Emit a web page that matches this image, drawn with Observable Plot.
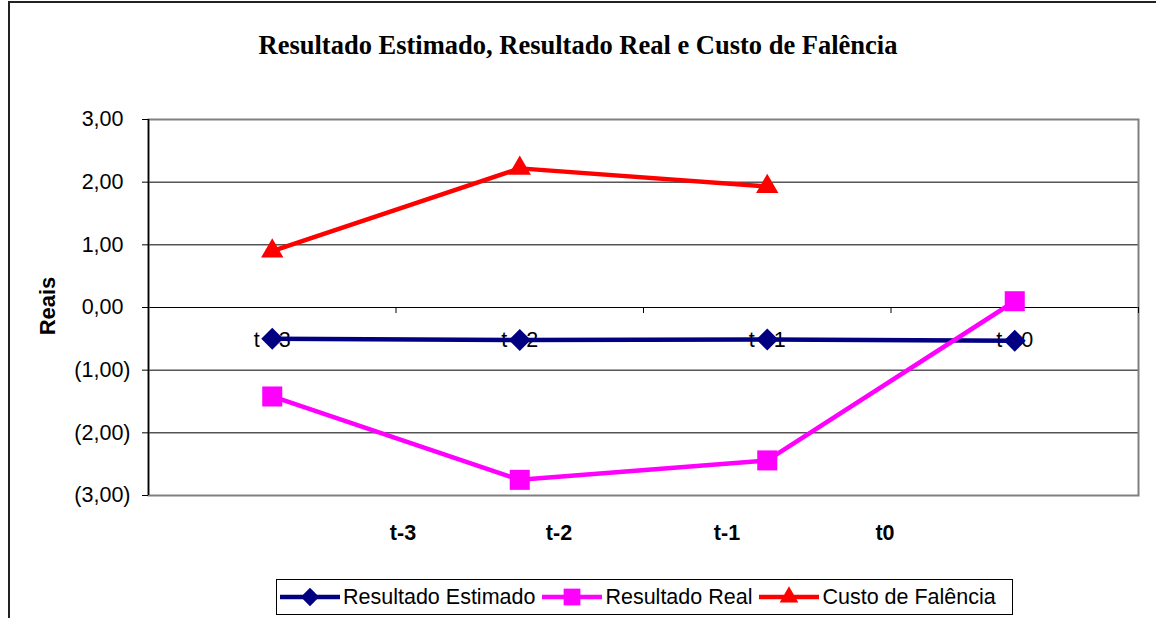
<!DOCTYPE html>
<html>
<head>
<meta charset="utf-8">
<script src="https://cdn.jsdelivr.net/npm/d3@7"></script>
<script src="https://cdn.jsdelivr.net/npm/@observablehq/plot@0.6"></script>
<style>
  html, body { margin: 0; padding: 0; background: #fff; }
  #wrap { position: relative; width: 1156px; height: 618px; overflow: hidden; font-family: "Liberation Sans", Arial, sans-serif; }
  #area { position: absolute; left: 8px; top: 1px; width: 1160px; height: 640px; border-left: 2px solid #222; border-top: 2px solid #222; box-sizing: border-box; z-index: 5; }
  #title { position: absolute; left: 0; width: 1156px; top: 29px; line-height: 32px; text-align: center; font-family: "Liberation Serif", "Times New Roman", serif; font-weight: bold; font-size: 26.5px; color: #000; }
  #ylabel { position: absolute; left: 48px; top: 306px; transform: translate(-50%, -50%) rotate(-90deg); font-weight: bold; font-size: 22px; }
  .cat { position: absolute; top: 533px; transform: translate(-50%, -50%); font-weight: bold; font-size: 21.5px; }
  #legend { position: absolute; left: 276px; top: 579px; width: 737px; height: 36px; border: 1px solid #000; box-sizing: border-box; display: flex; align-items: center; padding-left: 3px; font-size: 21.5px; }
  .item { display: flex; align-items: center; margin-right: 7px; }
  .item svg { margin-right: 3px; }
  #chart { position: absolute; left: 0; top: 0; }
</style>
</head>
<body>
<div id="wrap">
  <div id="area"></div>
  <div id="chart"></div>
  <div id="title"></div>
  <div id="ylabel"></div>
  <div id="cats"></div>
  <div id="legend"></div>
</div>
<script>
const title = "Resultado Estimado, Resultado Real e Custo de Falência";
const yLabel = "Reais";
const categories = ["t - 3", "t - 2", "t - 1", "t - 0"];
const bottomLabels = ["t-3", "t-2", "t-1", "t0"];
const seriesNames = ["Resultado Estimado", "Resultado Real", "Custo de Falência"];
const resultadoEstimado = [-0.50, -0.52, -0.51, -0.53];
const resultadoReal = [-1.42, -2.75, -2.44, 0.10];
const custoFalencia = [0.90, 2.22, 1.93, null];
const yTicks = [-3, -2, -1, 0, 1, 2, 3];

const colors = ["#000080", "#FF00FF", "#FF0000"];
const symbols = ["diamond2", "square", "triangle"];
const radii = [9.9, 11.3, 8.3];
const seriesValues = [resultadoEstimado, resultadoReal, custoFalencia];

const rows = [];
seriesValues.forEach((vals, s) => vals.forEach((v, i) => {
  if (v != null) rows.push({series: seriesNames[s], i, x: i + 0.5, y: v});
}));

const fmt = v => {
  const s = Math.abs(v).toFixed(2).replace(".", ",");
  return v < 0 ? `(${s})` : s;
};

const marks = [
  Plot.ruleY(yTicks.filter(t => t > -3 && t < 3), {stroke: "#000", strokeWidth: 1}),
  Plot.frame({stroke: "#808080", strokeWidth: 2}),
  Plot.ruleX([0], {stroke: "#000", strokeWidth: 1.5}),
  Plot.ruleX(d3.range(categories.length + 1), {x: d => d, y1: 0, y2: 0, insetBottom: -6, stroke: "#000"}),
  Plot.axisY(yTicks.filter(t => t >= 0), {label: null, tickSize: 6, tickPadding: 19, tickFormat: fmt, fontSize: 21.5, fill: "#000", stroke: "#000"}),
  Plot.axisY(yTicks.filter(t => t < 0), {label: null, tickSize: 6, tickPadding: 12, tickFormat: fmt, fontSize: 21.5, fill: "#000", stroke: "#000"}),
  Plot.text(categories, {x: (d, i) => i + 0.5, y: () => 0, dy: 33, text: d => d, fontSize: 21.5, fill: "#000"})
];
seriesNames.forEach((name, s) => {
  const data = rows.filter(r => r.series === name);
  marks.push(Plot.line(data, {x: "x", y: "y", stroke: colors[s], strokeWidth: 4.5}));
  marks.push(Plot.dot(data, {x: "x", y: "y", symbol: () => symbols[s], r: radii[s], fill: colors[s], stroke: "none"}));
});

const chart = Plot.plot({
  width: 1156,
  height: 618,
  marginLeft: 148,
  marginRight: 18,
  marginTop: 119,
  marginBottom: 123,
  style: {fontFamily: "'Liberation Sans', Arial, sans-serif", background: "transparent", overflow: "visible"},
  x: {domain: [0, categories.length], axis: null},
  y: {domain: [-3, 3], axis: null},
  symbol: {type: "identity"},
  marks
});
document.getElementById("chart").appendChild(chart);

document.getElementById("title").textContent = title;
document.getElementById("ylabel").textContent = yLabel;
const catPos = [403, 559, 727, 885];
const cats = document.getElementById("cats");
bottomLabels.forEach((t, i) => {
  const d = document.createElement("div");
  d.className = "cat";
  d.style.left = catPos[i] + "px";
  d.textContent = t;
  cats.appendChild(d);
});

const legend = document.getElementById("legend");
seriesNames.forEach((name, s) => {
  const item = document.createElement("div");
  item.className = "item";
  const sw = d3.create("svg").attr("width", 60).attr("height", 24);
  sw.append("line").attr("x1", 0).attr("x2", 60).attr("y1", 12).attr("y2", 12).attr("stroke", colors[s]).attr("stroke-width", 4.5);
  const symType = [d3.symbolDiamond2, d3.symbolSquare, d3.symbolTriangle][s];
  const size = Math.PI * radii[s] * radii[s] * 0.7;
  sw.append("path").attr("d", d3.symbol(symType, size)()).attr("transform", "translate(30,12)").attr("fill", colors[s]);
  item.appendChild(sw.node());
  const span = document.createElement("span");
  span.textContent = name;
  item.appendChild(span);
  legend.appendChild(item);
});
</script>
</body>
</html>
